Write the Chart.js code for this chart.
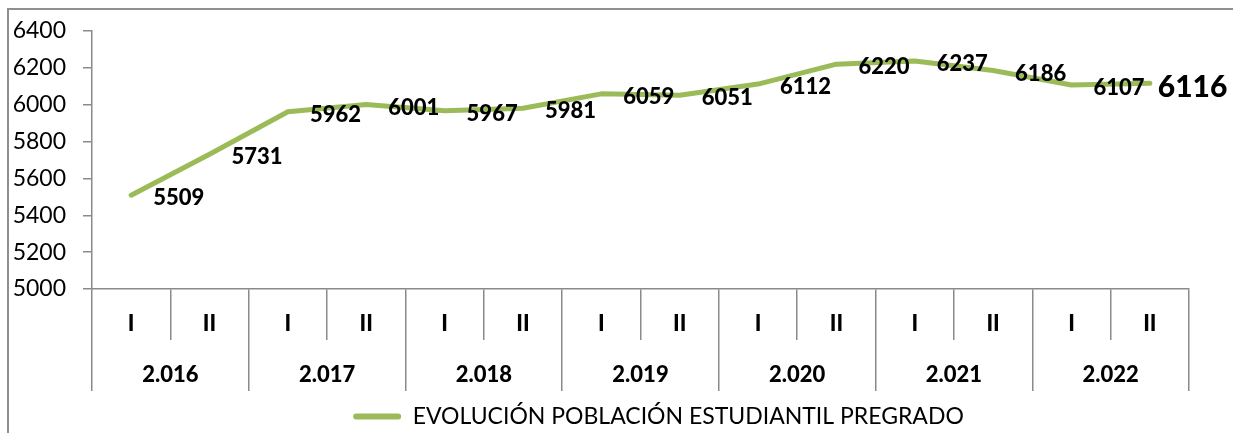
<!DOCTYPE html>
<html>
<head>
<meta charset="utf-8">
<script src="https://cdn.jsdelivr.net/npm/chart.js@4/dist/chart.umd.min.js"></script>
<style>
  html, body { margin: 0; padding: 0; background: #fff; overflow: hidden; }
  #wrap { position: relative; width: 1233px; height: 433px; }
  #frame { position: absolute; left: 7px; top: 8px; width: 1300px; height: 500px; border: 2px solid #8f8f8f; box-sizing: border-box; }
  canvas { position: absolute; left: 0; top: 0; }
</style>
</head>
<body>
<div id="wrap">
  <div id="frame"></div>
  <canvas id="c" width="1233" height="433"></canvas>
</div>
<script>
// ---- data ----
const semesters = ['I','II','I','II','I','II','I','II','I','II','I','II','I','II'];
const years = ['2.016','2.017','2.018','2.019','2.020','2.021','2.022'];
const population = [5509, 5731, 5962, 6001, 5967, 5981, 6059, 6051, 6112, 6220, 6237, 6186, 6107, 6116];
const yMin = 5000, yMax = 6400, yStep = 200;
const seriesName = 'EVOLUCIÓN POBLACIÓN ESTUDIANTIL PREGRADO';

const GREEN = '#9BBB59';
const AXIS = '#8a8a8a';
const HEAVY = '900';

const valueLabels = {
  id: 'valueLabels',
  afterDatasetsDraw(chart) {
    const ctx = chart.ctx;
    const meta = chart.getDatasetMeta(0);
    ctx.save();
    ctx.fillStyle = '#000';
    ctx.textAlign = 'left';
    ctx.textBaseline = 'middle';
    meta.data.forEach((pt, i) => {
      const last = i === meta.data.length - 1;
      ctx.font = last ? HEAVY + ' 30px Lato' : HEAVY + ' 22px Lato';
      ctx.fillText(String(population[i]), pt.x + (last ? 8 : 22), pt.y + (last ? 4 : 3));
    });
    ctx.restore();
  }
};

const legendShift = {
  id: 'legendShift',
  afterLayout(chart) {
    const lg = chart.legend;
    if (!lg) return;
    lg.left += 18; lg.right += 18;
    lg.top += 5; lg.bottom += 5;
  }
};

function build() {
  Chart.defaults.font.family = 'Lato';
  Chart.defaults.color = '#000';
  new Chart(document.getElementById('c'), {
    type: 'line',
    data: {
      labels: semesters,
      datasets: [{
        label: seriesName,
        data: population,
        borderColor: GREEN,
        backgroundColor: GREEN,
        borderWidth: 5,
        pointRadius: 0,
        tension: 0,
        fill: false,
        borderCapStyle: 'round',
        borderJoinStyle: 'round'
      }]
    },
    options: {
      responsive: false,
      animation: false,
      events: [],
      layout: { padding: { left: 0, right: 44, top: 31, bottom: 0 } },
      scales: {
        y: {
          min: yMin, max: yMax,
          afterFit(s) { s.width = 92; },
          ticks: { stepSize: yStep, padding: 17, font: { size: 23 }, color: '#000', callback: v => String(v) },
          grid: { drawOnChartArea: false, drawTicks: true, tickLength: 9, color: AXIS, lineWidth: 1.5 },
          border: { display: true, color: AXIS, width: 1.5 }
        },
        x: {
          type: 'category',
          position: 'bottom',
          offset: true,
          afterFit(s) { s.height = 51; },
          ticks: { font: { size: 22, weight: HEAVY }, color: '#000', padding: -29, maxRotation: 0, autoSkip: false },
          grid: { offset: true, drawOnChartArea: false, drawTicks: true, tickLength: 51, color: AXIS, lineWidth: 1.5 },
          border: { display: true, color: AXIS, width: 1.5 }
        },
        x2: {
          type: 'category',
          position: 'bottom',
          labels: years,
          offset: true,
          afterFit(s) { s.height = 51; },
          ticks: { font: { size: 22, weight: HEAVY }, color: '#000', padding: -29, maxRotation: 0, autoSkip: false },
          grid: { offset: true, drawOnChartArea: false, drawTicks: true, tickLength: 51, color: AXIS, lineWidth: 1.5 },
          border: { display: false }
        }
      },
      plugins: {
        tooltip: { enabled: false },
        legend: {
          display: true,
          position: 'bottom',
          fullSize: false,
          labels: {
            boxWidth: 48,
            boxHeight: 6,
            padding: 9,
            color: '#000',
            font: { size: 23 },
            generateLabels(chart) {
              return Chart.defaults.plugins.legend.labels.generateLabels(chart).map(it => Object.assign(it, {
                fillStyle: GREEN, strokeStyle: GREEN, lineWidth: 0, borderRadius: 3
              }));
            }
          }
        }
      }
    },
    plugins: [valueLabels, legendShift]
  });
}

const fontLoads = ['22px Lato', '900 22px Lato', '900 30px Lato', '23px Lato'].map(f => document.fonts.load(f).catch(() => null));
Promise.all(fontLoads).then(build, build);
</script>
</body>
</html>
